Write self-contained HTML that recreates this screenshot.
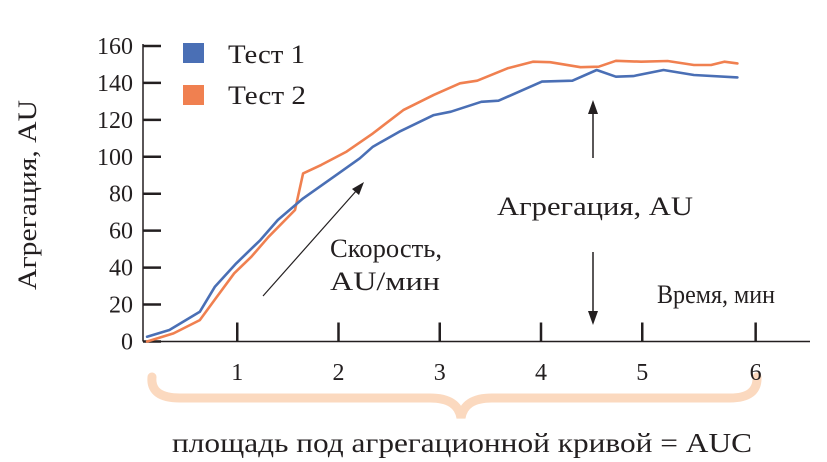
<!DOCTYPE html>
<html><head><meta charset="utf-8">
<style>
html,body{margin:0;padding:0;background:#fff;}
svg{display:block;}
text{font-family:"Liberation Serif","Noto Serif CJK SC",serif;fill:#231f20;}
</style></head>
<body>
<svg id="chart" width="827" height="462" viewBox="0 0 827 462" xmlns="http://www.w3.org/2000/svg">
  <path d="M152,377 Q150,398 180,398 L430,398 Q458,398 461,418 Q464,398 492,398 L730,398 Q758,398 757,377" fill="none" stroke="#fbd9bf" stroke-width="9" stroke-linecap="round"/>
  <g id="axes"></g>
  <g id="series"></g>
  <g>
    <rect x="183" y="43" width="21" height="20" fill="#4a6fb5"/>
    <text x="228" y="63" font-size="26" textLength="77" lengthAdjust="spacingAndGlyphs">Тест 1</text>
    <rect x="183" y="85" width="21" height="20" fill="#f08050"/>
    <text x="228" y="104" font-size="26" textLength="78" lengthAdjust="spacingAndGlyphs">Тест 2</text>
  </g>
  <line x1="263" y1="296" x2="357" y2="190" stroke="#231f20" stroke-width="1.2"/>
  <polygon points="364,182 352,189 359,195" fill="#231f20"/>
  <text x="330" y="257" font-size="26" textLength="112" lengthAdjust="spacingAndGlyphs">Скорость,</text>
  <text x="330" y="290" font-size="26" textLength="110" lengthAdjust="spacingAndGlyphs">AU/мин</text>
  <line x1="593" y1="158" x2="593" y2="112" stroke="#231f20" stroke-width="1.5"/>
  <polygon points="593,100 588,114 598,114" fill="#231f20"/>
  <line x1="593" y1="252" x2="593" y2="312" stroke="#231f20" stroke-width="1.5"/>
  <polygon points="593,325 588,311 598,311" fill="#231f20"/>
  <text x="497" y="215" font-size="26" textLength="196" lengthAdjust="spacingAndGlyphs">Агрегация, AU</text>
  <text x="657" y="303" font-size="26" textLength="118" lengthAdjust="spacingAndGlyphs">Время, мин</text>
  <text transform="translate(36,195) rotate(-90)" text-anchor="middle" font-size="26" textLength="190" lengthAdjust="spacingAndGlyphs">Агрегация, AU</text>
  <text x="172" y="452" font-size="27" textLength="580" lengthAdjust="spacingAndGlyphs">площадь под агрегационной кривой = AUC</text>
</svg>
<script>
const yTicks = [0,20,40,60,80,100,120,140,160];
const xTickVals = [1,2,3,4,5,6.12];
const xTickLabels = ["1","2","3","4","5","6"];
const t1Time = [0.11,0.33,0.63,0.78,0.99,1.23,1.40,1.65,2.0,2.21,2.34,2.60,2.94,3.11,3.41,3.58,4.01,4.31,4.55,4.74,4.91,5.21,5.51,5.94];
const t1Vals = [2.6,6.2,16.1,29.7,42.3,55,65.8,77.5,91,99.2,105.5,113.6,122.6,124.4,129.8,130.4,140.7,141.2,147,143.4,143.7,147,144.3,143];
const t2Time = [0.11,0.37,0.63,0.80,0.97,1.14,1.31,1.57,1.65,1.83,2.08,2.34,2.64,2.94,3.20,3.37,3.67,3.92,4.09,4.39,4.57,4.74,4.99,5.25,5.51,5.68,5.81,5.94];
const t2Vals = [0,4.4,11.6,24.3,36.9,45.9,56.7,71.2,91,95.6,102.8,112.7,125.3,133.5,139.8,141.2,147.9,151.5,151.2,148.5,148.8,152,151.5,151.9,149.7,149.7,151.5,150.6];

const NS = "http://www.w3.org/2000/svg";
const X0 = 136, XS = 101.25, Y0 = 341.5, YS = 1.8469;
function xScale(t){ return X0 + t*XS; }
function yScale(v){ return Y0 - v*YS; }
function mk(tag, attrs, parent){ const e=document.createElementNS(NS,tag); for(const k in attrs) e.setAttribute(k,attrs[k]); parent.appendChild(e); return e; }

const axes = document.getElementById('axes');
const yAxis = mk('line',{x1:143,y1:yScale(160)-2,x2:143,y2:Y0,stroke:'#231f20','stroke-width':1.5},axes);


const xAxis = mk('line',{x1:143,y1:Y0,x2:810,y2:Y0,stroke:'#231f20','stroke-width':1.5},axes);



yTicks.forEach(v=>{
  const tk = mk('line',{x1:143,y1:yScale(v),x2:161,y2:yScale(v),stroke:'#231f20','stroke-width':2.5},axes);
  
  
  const lb = mk('text',{x:133,y:yScale(v)+8,'text-anchor':'end','font-size':24},axes);
  lb.textContent = v;
  
  
});
xTickVals.forEach((t,i)=>{
  const tk = mk('line',{x1:xScale(t),y1:Y0-19,x2:xScale(t),y2:Y0,stroke:'#231f20','stroke-width':2.5},axes);
  
  
  const lb = mk('text',{x:xScale(t),y:380,'text-anchor':'middle','font-size':24},axes);
  lb.textContent = xTickLabels[i];
  
  
});

const series = document.getElementById('series');
function line(ts, vs, color, name){
  const d = ts.map((t,i)=>(i?'L':'M')+xScale(t).toFixed(1)+','+yScale(vs[i]).toFixed(1)).join(' ');
  const p = mk('path',{d:d,fill:'none',stroke:color,'stroke-width':2.6,'stroke-linejoin':'round','stroke-linecap':'round'},series);
  
  
}
line(t2Time, t2Vals, '#f08050', 'line-test2');
line(t1Time, t1Vals, '#4a6fb5', 'line-test1');
</script>
</body></html>
